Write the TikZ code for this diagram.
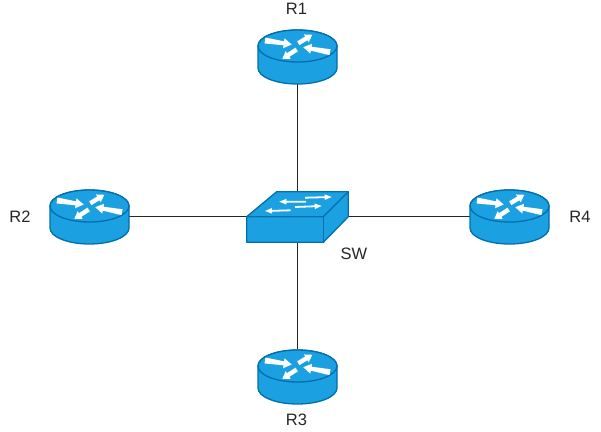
\documentclass[tikz,border=0pt]{standalone}
\usepackage{fontspec}
\setmainfont{Liberation Sans}
\definecolor{netfill}{HTML}{1BA1E2}
\definecolor{netline}{HTML}{006EAF}
\tikzset{
  x=1pt,y=-1pt,
  devbody/.style={fill=netfill,draw=netline,line width=1.3pt,line join=round},
  link/.style={draw=black!85,line width=0.9pt},
  routerbox/.style={rectangle,inner sep=0pt,minimum width=79pt,minimum height=54pt},
  switchbox/.style={rectangle,inner sep=0pt,minimum width=101.6pt,minimum height=50.6pt},
  lbl/.style={font=\fontsize{16.5}{18}\selectfont,text=black!85,inner sep=0pt},
}
% #1,#2 tail; #3,#4 head; #5 tail half-width; #6 neck half-width; #7 head half-width; #8 head length
\newcommand{\arrowshape}[8]{%
  \pgfmathsetmacro{\arang}{atan2(-((#4)-(#2)),(#3)-(#1))}%
  \pgfmathsetmacro{\arlen}{veclen((#3)-(#1),(#4)-(#2))}%
  \pgfmathsetmacro{\arneck}{\arlen-(#8)}%
  \begin{scope}[shift={(#1,#2)},rotate=\arang]
    \fill[white] (0,-#5) -- (\arneck,-#6) -- (\arneck,-#7) -- (\arlen,0) -- (\arneck,#7) -- (\arneck,#6) -- (0,#5) -- cycle;
  \end{scope}}
\newcommand{\routerdraw}[1]{%
  \begin{scope}[shift={(#1)},yshift=-0.5pt]
    \path[devbody] (-39.5,-11) -- (-39.5,11) arc[start angle=180,end angle=360,x radius=39.5,y radius=-16]
       -- (39.5,-11) arc[start angle=0,end angle=180,x radius=39.5,y radius=-16] -- cycle;
    \path[devbody] (0,-11) ellipse[x radius=39.5,y radius=16];
    \arrowshape{-32.5}{-16.5}{-5.8}{-12.5}{3}{2}{5}{8}
    \arrowshape{0.8}{-13.8}{14.8}{-22.2}{2.2}{2.2}{4.6}{7}
    \arrowshape{32.5}{-4.8}{5.8}{-9.8}{3}{2}{5}{8}
    \arrowshape{-0.8}{-7.5}{-15.2}{1.8}{2.2}{2.2}{4.6}{7}
  \end{scope}}
\newcommand{\switchdraw}[1]{%
  \begin{scope}[shift={(#1)},yshift=-0.5pt]
    \path[devbody] (-50.8,-0.3) -- (-20.8,-25.3) -- (50.8,-25.3) -- (50.8,-0.3) -- (25.8,25.3) -- (-50.8,25.3) -- cycle;
    \path[devbody] (-50.8,-0.3) -- (25.8,-0.3) -- (50.8,-25.3);
    \draw[devbody,fill=none] (25.8,-0.3) -- (25.8,25.3);
    \arrowshape{8.5}{-15.3}{-18.2}{-15.3}{0.9}{0.9}{2.8}{7}
    \arrowshape{7.5}{-19.3}{34.2}{-20}{0.9}{0.9}{2.8}{7}
    \arrowshape{-6.8}{-6.7}{-32.5}{-6}{0.9}{0.9}{2.8}{7}
    \arrowshape{-2.5}{-10}{24.2}{-11}{0.9}{0.9}{2.8}{7}
  \end{scope}}
\begin{document}
\begin{tikzpicture}
  \useasboundingbox (0,0) rectangle (601,431);
  \node[routerbox] (r1) at (297.5,56.5) {};
  \node[routerbox] (r2) at (89.5,216.5) {};
  \node[routerbox] (r3) at (297.5,376.5) {};
  \node[routerbox] (r4) at (509.5,216.5) {};
  \node[switchbox] (sw) at (297.5,216.5) {};
  \draw[link] (r1) -- (sw);
  \draw[link] (r2) -- (sw);
  \draw[link] (r3) -- (sw);
  \draw[link] (r4) -- (sw);
  \routerdraw{r1}
  \routerdraw{r2}
  \routerdraw{r3}
  \routerdraw{r4}
  \switchdraw{sw}
  \node[lbl] (l1) at (296.5,9) {R1};
  \node[lbl] (l2) at (20,216.5) {R2};
  \node[lbl] (l3) at (296.5,420) {R3};
  \node[lbl] (l4) at (580,216.5) {R4};
  \node[lbl] (l5) at (354,253.5) {SW};
\end{tikzpicture}
\end{document}
